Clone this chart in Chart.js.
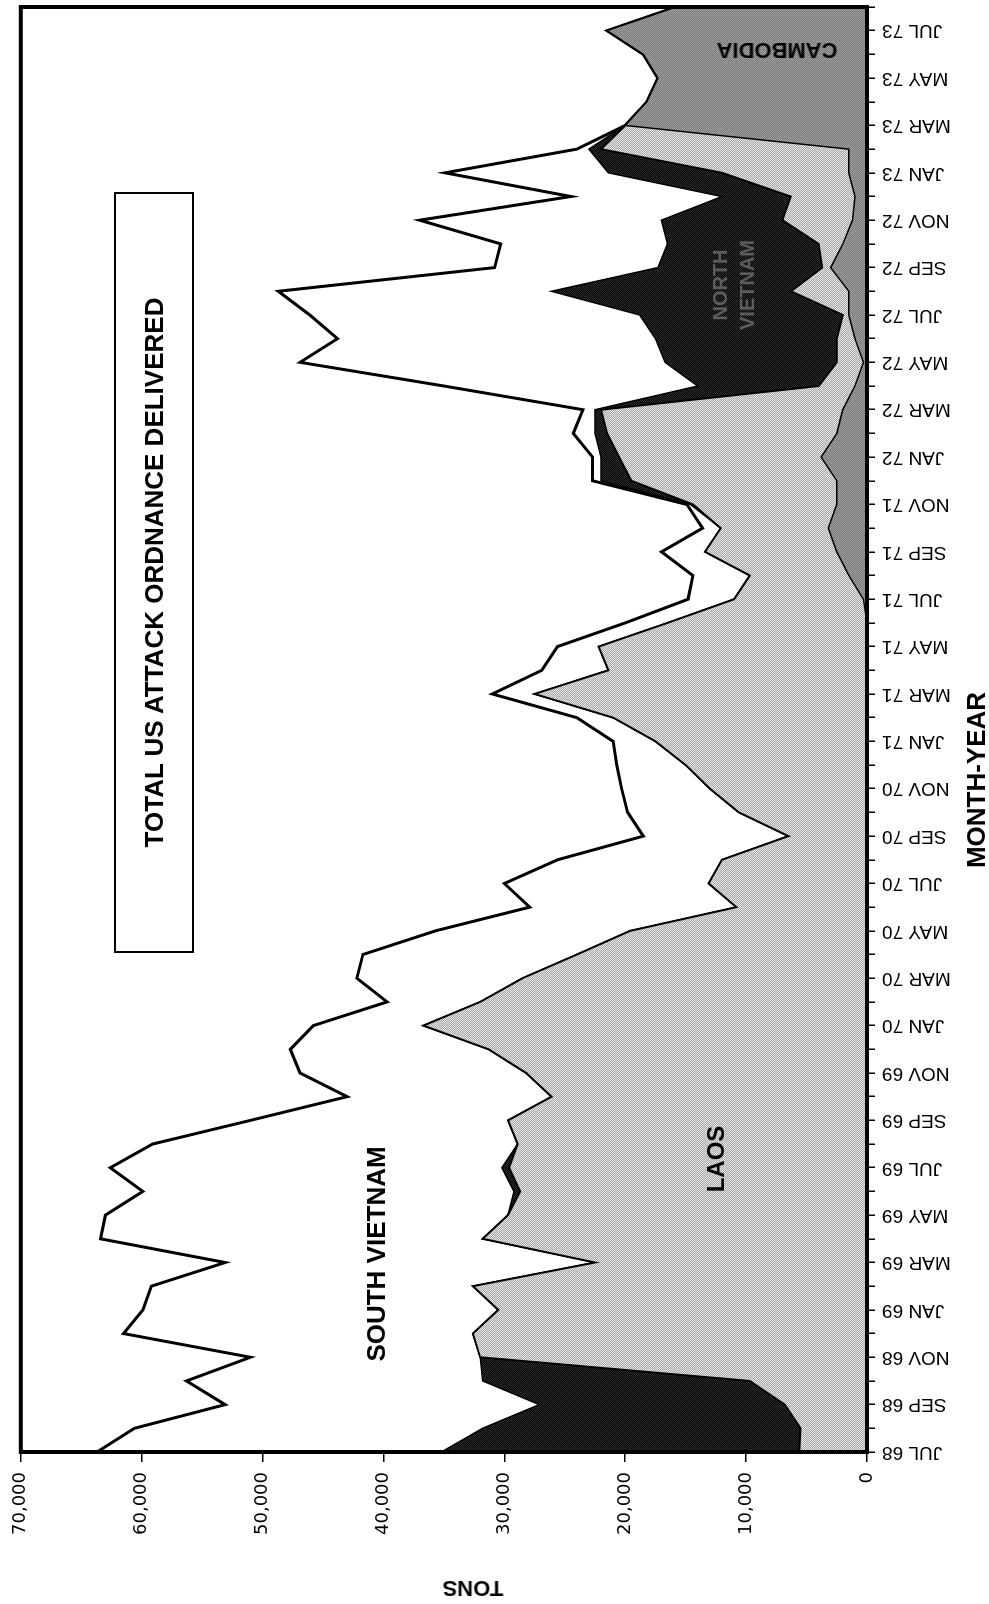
<!DOCTYPE html>
<html>
<head>
<meta charset="utf-8">
<script src="https://cdn.jsdelivr.net/npm/chart.js@4.4.0/dist/chart.umd.min.js"></script>
<style>
  html, body { margin: 0; padding: 0; background: #fff; }
  body { width: 989px; height: 1604px; overflow: hidden; position: relative; }
  /* the chart is laid out landscape and turned a quarter turn, like the printed page */
  #frame { position: absolute; left: 0; top: 0; width: 1604px; height: 989px;
           transform-origin: 0 0; transform: translate(0, 1604px) rotate(-90deg); }
  #frame canvas { position: absolute; left: 0; top: 0; }
  .note { position: absolute; font-family: 'Liberation Sans', Arial, sans-serif; font-weight: bold;
          color: #000; white-space: nowrap; line-height: 1; transform: translate(-50%, -50%); }
  #titleBox { position: absolute; left: 651px; top: 114px; width: 757px; height: 76px;
              border: 2px solid #000; background: #fff; display: flex; align-items: center;
              justify-content: center; font: bold 26px 'Liberation Sans', Arial, sans-serif; }
</style>
</head>
<body>
<div id="frame">
  <canvas id="ordnance" width="1604" height="989"></canvas>
  <div id="titleBox">TOTAL US ATTACK ORDNANCE DELIVERED</div>
  <div class="note" style="left:350px; top:376px; font-size:26px;">SOUTH VIETNAM</div>
  <div class="note" style="left:445px; top:716px; font-size:24px;">LAOS</div>
  <div class="note" style="left:1319px; top:720px; font-size:20px; color:#5c5c5c;">NORTH</div>
  <div class="note" style="left:1319px; top:747px; font-size:20px; color:#5c5c5c;">VIETNAM</div>
  <div class="note" style="left:1554px; top:777px; font-size:22px; transform: translate(-50%, -50%) rotate(-90deg);">CAMBODIA</div>
  <div class="note" style="left:824px; top:976px; font-size:26px;">MONTH-YEAR</div>
  <div class="note" style="left:16px; top:473px; font-size:22px; transform: translate(-50%, -50%) rotate(-90deg);">TONS</div>
</div>
<script>
// setup
const months = [
  'JUL 68', 'AUG 68', 'SEP 68', 'OCT 68', 'NOV 68', 'DEC 68',
  'JAN 69', 'FEB 69', 'MAR 69', 'APR 69', 'MAY 69', 'JUN 69', 'JUL 69', 'AUG 69', 'SEP 69', 'OCT 69', 'NOV 69', 'DEC 69',
  'JAN 70', 'FEB 70', 'MAR 70', 'APR 70', 'MAY 70', 'JUN 70', 'JUL 70', 'AUG 70', 'SEP 70', 'OCT 70', 'NOV 70', 'DEC 70',
  'JAN 71', 'FEB 71', 'MAR 71', 'APR 71', 'MAY 71', 'JUN 71', 'JUL 71', 'AUG 71', 'SEP 71', 'OCT 71', 'NOV 71', 'DEC 71',
  'JAN 72', 'FEB 72', 'MAR 72', 'APR 72', 'MAY 72', 'JUN 72', 'JUL 72', 'AUG 72', 'SEP 72', 'OCT 72', 'NOV 72', 'DEC 72',
  'JAN 73', 'FEB 73', 'MAR 73', 'APR 73', 'MAY 73', 'JUN 73', 'JUL 73', 'AUG 73'
];

// tons per month, bottom of the stack first
const cambodia = [
  0, 0, 0, 0, 0, 0,
  0, 0, 0, 0, 0, 0, 0, 0, 0, 0, 0, 0,
  0, 0, 0, 0, 0, 0, 0, 0, 0, 0, 0, 0,
  0, 0, 0, 0, 0, 0, 300, 1500, 2500, 3200, 2500, 2500,
  3800, 2500, 2000, 1000, 300, 1000, 1500, 1500, 3000, 2000, 1200, 1000,
  1500, 1500, 20000, 18200, 17300, 18500, 21500, 15800
];
const laos = [
  5600, 5500, 6800, 9700, 32000, 32600,
  30500, 32600, 22500, 31800, 29700, 28700, 29600, 28900, 29700, 26100, 28200, 31300,
  36700, 32000, 28500, 24000, 19600, 10800, 13100, 12000, 6500, 10600, 13000, 15000,
  17500, 21000, 27500, 21400, 22200, 16500, 10700, 8200, 10900, 8900, 11900, 17000,
  16700, 19000, 20000, 3000, 2200, 1500, 500, 4800, 700, 2000, 5800, 5300,
  10500, 20500, 0, 0, 0, 0, 0, 0
];
const northVietnam = [
  29600, 26300, 20300, 22100, 0, 0,
  0, 0, 0, 0, 0, 500, 600, 0, 0, 0, 0, 0,
  0, 0, 0, 0, 0, 0, 0, 0, 0, 0, 0, 0,
  0, 0, 0, 0, 0, 0, 0, 0, 0, 0, 200, 2500,
  1500, 1000, 500, 10000, 14200, 15000, 16800, 19800, 13600, 12500, 10000, 5700,
  9400, 1000, 0, 0, 0, 0, 0, 0
];
const southVietnam = [
  28500, 28800, 26000, 24500, 19000, 28900,
  29400, 26600, 30600, 31600, 33300, 30700, 32400, 30200, 21300, 16900, 18700, 16400,
  9100, 7700, 13700, 17700, 16100, 17100, 16900, 13600, 12000, 9200, 7300, 5700,
  3500, 3000, 3500, 5500, 3400, 3500, 3800, 4700, 3600, 1500, 300, 700,
  700, 1800, 1000, 21000, 30200, 26300, 27300, 22600, 13500, 13800, 20000, 12500,
  13500, 1000, 0, 0, 0, 0, 0, 0
];
const tonTicks = [0, 10000, 20000, 30000, 40000, 50000, 60000, 70000];

// screened fills, like the halftone of the original
function screen(light, dark) {
  const c = document.createElement('canvas');
  c.width = 4; c.height = 4;
  const g = c.getContext('2d');
  g.fillStyle = light;
  g.fillRect(0, 0, 4, 4);
  g.fillStyle = dark;
  for (let y = 0; y < 4; y++) {
    for (let x = 0; x < 4; x++) {
      if ((x + y) % 2 === 0) g.fillRect(x, y, 1, 1);
    }
  }
  return g.createPattern(c, 'repeat');
}

const data = {
  labels: months,
  datasets: [{
    label: 'Cambodia',
    data: cambodia,
    fill: 'origin',
    backgroundColor: screen('#a4a4a4', '#747474'),
    borderColor: '#000',
    borderWidth: 1.5
  }, {
    label: 'Laos',
    data: laos,
    fill: '-1',
    backgroundColor: screen('#e4e4e4', '#a8a8a8'),
    borderColor: '#000',
    borderWidth: 2
  }, {
    label: 'North Vietnam',
    data: northVietnam,
    fill: '-1',
    backgroundColor: screen('#2c2c2c', '#080808'),
    borderColor: '#000',
    borderWidth: 1.5
  }, {
    label: 'South Vietnam',
    data: southVietnam,
    fill: '-1',
    backgroundColor: '#fff',
    borderColor: '#000',
    borderWidth: 3
  }]
};

// heavy frame round the plot
const plotFrame = {
  id: 'plotFrame',
  afterDraw(chart) {
    const { ctx, chartArea: a } = chart;
    ctx.save();
    ctx.strokeStyle = '#000';
    ctx.lineWidth = 4;
    ctx.strokeRect(a.left, a.top, a.right - a.left, a.bottom - a.top);
    ctx.restore();
  }
};

// config
const config = {
  type: 'line',
  data,
  options: {
    responsive: false,
    animation: false,
    devicePixelRatio: 1,
    layout: { padding: { top: 16, right: 7, left: 0, bottom: 0 } },
    elements: { point: { radius: 0 }, line: { tension: 0 } },
    plugins: { legend: { display: false }, tooltip: { enabled: false } },
    scales: {
      x: {
        offset: false,
        border: { display: false },
        grid: { drawOnChartArea: false, tickLength: 8, color: '#000', lineWidth: 1.5 },
        ticks: {
          autoSkip: false, minRotation: 90, maxRotation: 90, padding: 7, color: '#000',
          font: { family: "'Liberation Sans', Arial, sans-serif", size: 19 },
          callback: (v, i) => (i % 2 === 0 ? months[i] : '')
        },
        afterFit: (s) => { s.height = 122; s.paddingLeft = 0; s.paddingRight = 0; }
      },
      y: {
        stacked: true,
        min: 0,
        max: 70000,
        border: { display: false },
        grid: { drawOnChartArea: false, tickLength: 10, color: '#000', lineWidth: 1.5 },
        afterBuildTicks: (s) => { s.ticks = tonTicks.map(v => ({ value: v })); },
        ticks: {
          padding: 10, color: '#000',
          font: { family: "'DejaVu Sans', sans-serif", size: 18 },
          callback: (v) => v.toLocaleString('en-US')
        },
        afterFit: (s) => { s.width = 152; }
      }
    }
  },
  plugins: [plotFrame]
};

// render init block
const ordnanceChart = new Chart(document.getElementById('ordnance'), config);
</script>
</body>
</html>
